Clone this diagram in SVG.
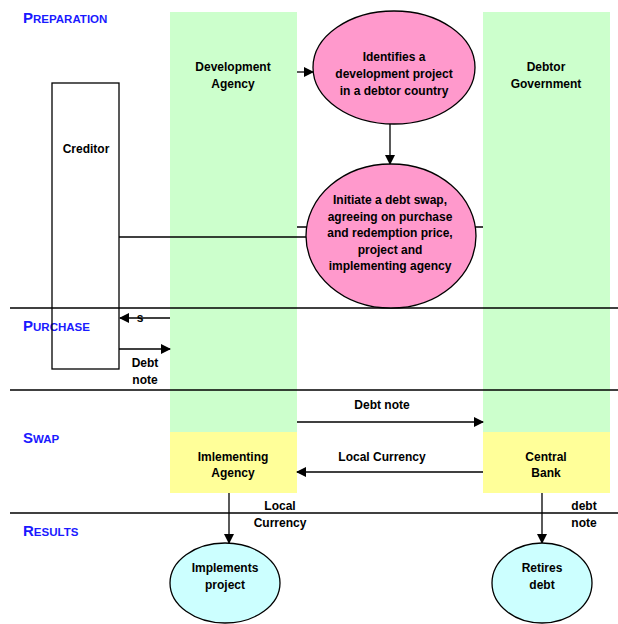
<svg xmlns="http://www.w3.org/2000/svg" width="618" height="624" viewBox="0 0 618 624">
<defs>
<marker id="ah" markerWidth="10" markerHeight="10" refX="9" refY="5" orient="auto" markerUnits="userSpaceOnUse">
<path d="M0,0 L10,5 L0,10 Z" fill="#000"/>
</marker>
<style>
.t{font-family:"Liberation Sans",Arial,sans-serif;font-size:12px;font-weight:bold;fill:#000;text-anchor:middle}
.sec{font-family:"Liberation Sans",Arial,sans-serif;font-weight:bold;fill:#1A1AFF;font-size:11.5px}
.big{font-size:15px}
.ln{stroke:#000;stroke-width:1.3;fill:none}
.ar{stroke:#000;stroke-width:1.3;fill:none;marker-end:url(#ah)}
.lane{fill:#CCFFCC}
.yel{fill:#FFFF99}
</style>
</defs>
<rect width="618" height="624" fill="#fff"/>

<g id="lane-dev">
<rect class="lane" x="170" y="12" width="127" height="420"/>
<rect class="yel" x="170" y="432" width="127" height="61"/>
</g>
<g id="lane-debtor">
<rect class="lane" x="483" y="12" width="127" height="420"/>
<rect class="yel" x="483" y="432" width="127" height="61"/>
</g>

<g id="separators">
<line class="ln" x1="10" y1="308" x2="618" y2="308"/>
<line class="ln" x1="10" y1="390" x2="618" y2="390"/>
<line class="ln" x1="10" y1="513" x2="618" y2="513"/>
</g>

<g id="sections">
<text class="sec" x="23" y="23"><tspan class="big">P</tspan>REPARATION</text>
<text class="sec" x="23" y="331"><tspan class="big">P</tspan>URCHASE</text>
<text class="sec" x="23" y="443"><tspan class="big">S</tspan>WAP</text>
<text class="sec" x="23" y="536"><tspan class="big">R</tspan>ESULTS</text>
</g>

<g id="connectors">
<line class="ln" x1="297" y1="227" x2="483" y2="227"/>
<line class="ln" x1="119" y1="237" x2="308" y2="237"/>
<line class="ar" x1="297" y1="72" x2="313" y2="72"/>
<line class="ar" x1="390" y1="124" x2="390" y2="164"/>
<line class="ar" x1="170" y1="318" x2="120" y2="318"/>
<line class="ar" x1="119" y1="349" x2="170" y2="349"/>
<line class="ar" x1="297" y1="422" x2="483" y2="422"/>
<line class="ar" x1="483" y1="472" x2="297" y2="472"/>
<line class="ar" x1="229" y1="493" x2="229" y2="543"/>
<line class="ar" x1="542" y1="493" x2="542" y2="543"/>
</g>

<g id="labels">
<text class="t" x="140" y="322">s</text>
<text class="t" x="145" y="367">Debt</text>
<text class="t" x="145" y="384">note</text>
<text class="t" x="382" y="409">Debt note</text>
<text class="t" x="382" y="461">Local Currency</text>
<text class="t" x="280" y="510">Local</text>
<text class="t" x="280" y="527">Currency</text>
<text class="t" x="584" y="510">debt</text>
<text class="t" x="584" y="527">note</text>
</g>

<g id="dev-agency">
<text class="t" x="233" y="71">Development</text>
<text class="t" x="233" y="88">Agency</text>
</g>
<g id="debtor-gov">
<text class="t" x="546" y="71">Debtor</text>
<text class="t" x="546" y="88">Government</text>
</g>
<g id="creditor">
<rect x="52" y="83" width="67" height="286" fill="none" stroke="#000" stroke-width="1.3"/>
<text class="t" x="86" y="153">Creditor</text>
</g>
<g id="identifies">
<ellipse cx="394" cy="67.5" rx="81" ry="56.5" fill="#FF99CC" stroke="#000" stroke-width="1.3"/>
<text class="t" x="394" y="61">Identifies a</text>
<text class="t" x="394" y="78">development project</text>
<text class="t" x="394" y="95">in a debtor country</text>
</g>
<g id="initiate">
<ellipse cx="391" cy="236" rx="85" ry="72" fill="#FF99CC" stroke="#000" stroke-width="1.3"/>
<text class="t" x="390" y="204">Initiate a debt swap,</text>
<text class="t" x="390" y="221">agreeing on purchase</text>
<text class="t" x="390" y="237">and redemption price,</text>
<text class="t" x="390" y="254">project and</text>
<text class="t" x="390" y="270">implementing agency</text>
</g>
<g id="impl-agency">
<text class="t" x="233" y="461">Imlementing</text>
<text class="t" x="233" y="477">Agency</text>
</g>
<g id="central-bank">
<text class="t" x="546" y="461">Central</text>
<text class="t" x="546" y="477">Bank</text>
</g>
<g id="implements">
<ellipse cx="225" cy="583" rx="55" ry="40" fill="#CCFFFF" stroke="#000" stroke-width="1.3"/>
<text class="t" x="225" y="572">Implements</text>
<text class="t" x="225" y="589">project</text>
</g>
<g id="retires">
<ellipse cx="542" cy="583" rx="50" ry="40" fill="#CCFFFF" stroke="#000" stroke-width="1.3"/>
<text class="t" x="542" y="572">Retires</text>
<text class="t" x="542" y="589">debt</text>
</g>
</svg>
